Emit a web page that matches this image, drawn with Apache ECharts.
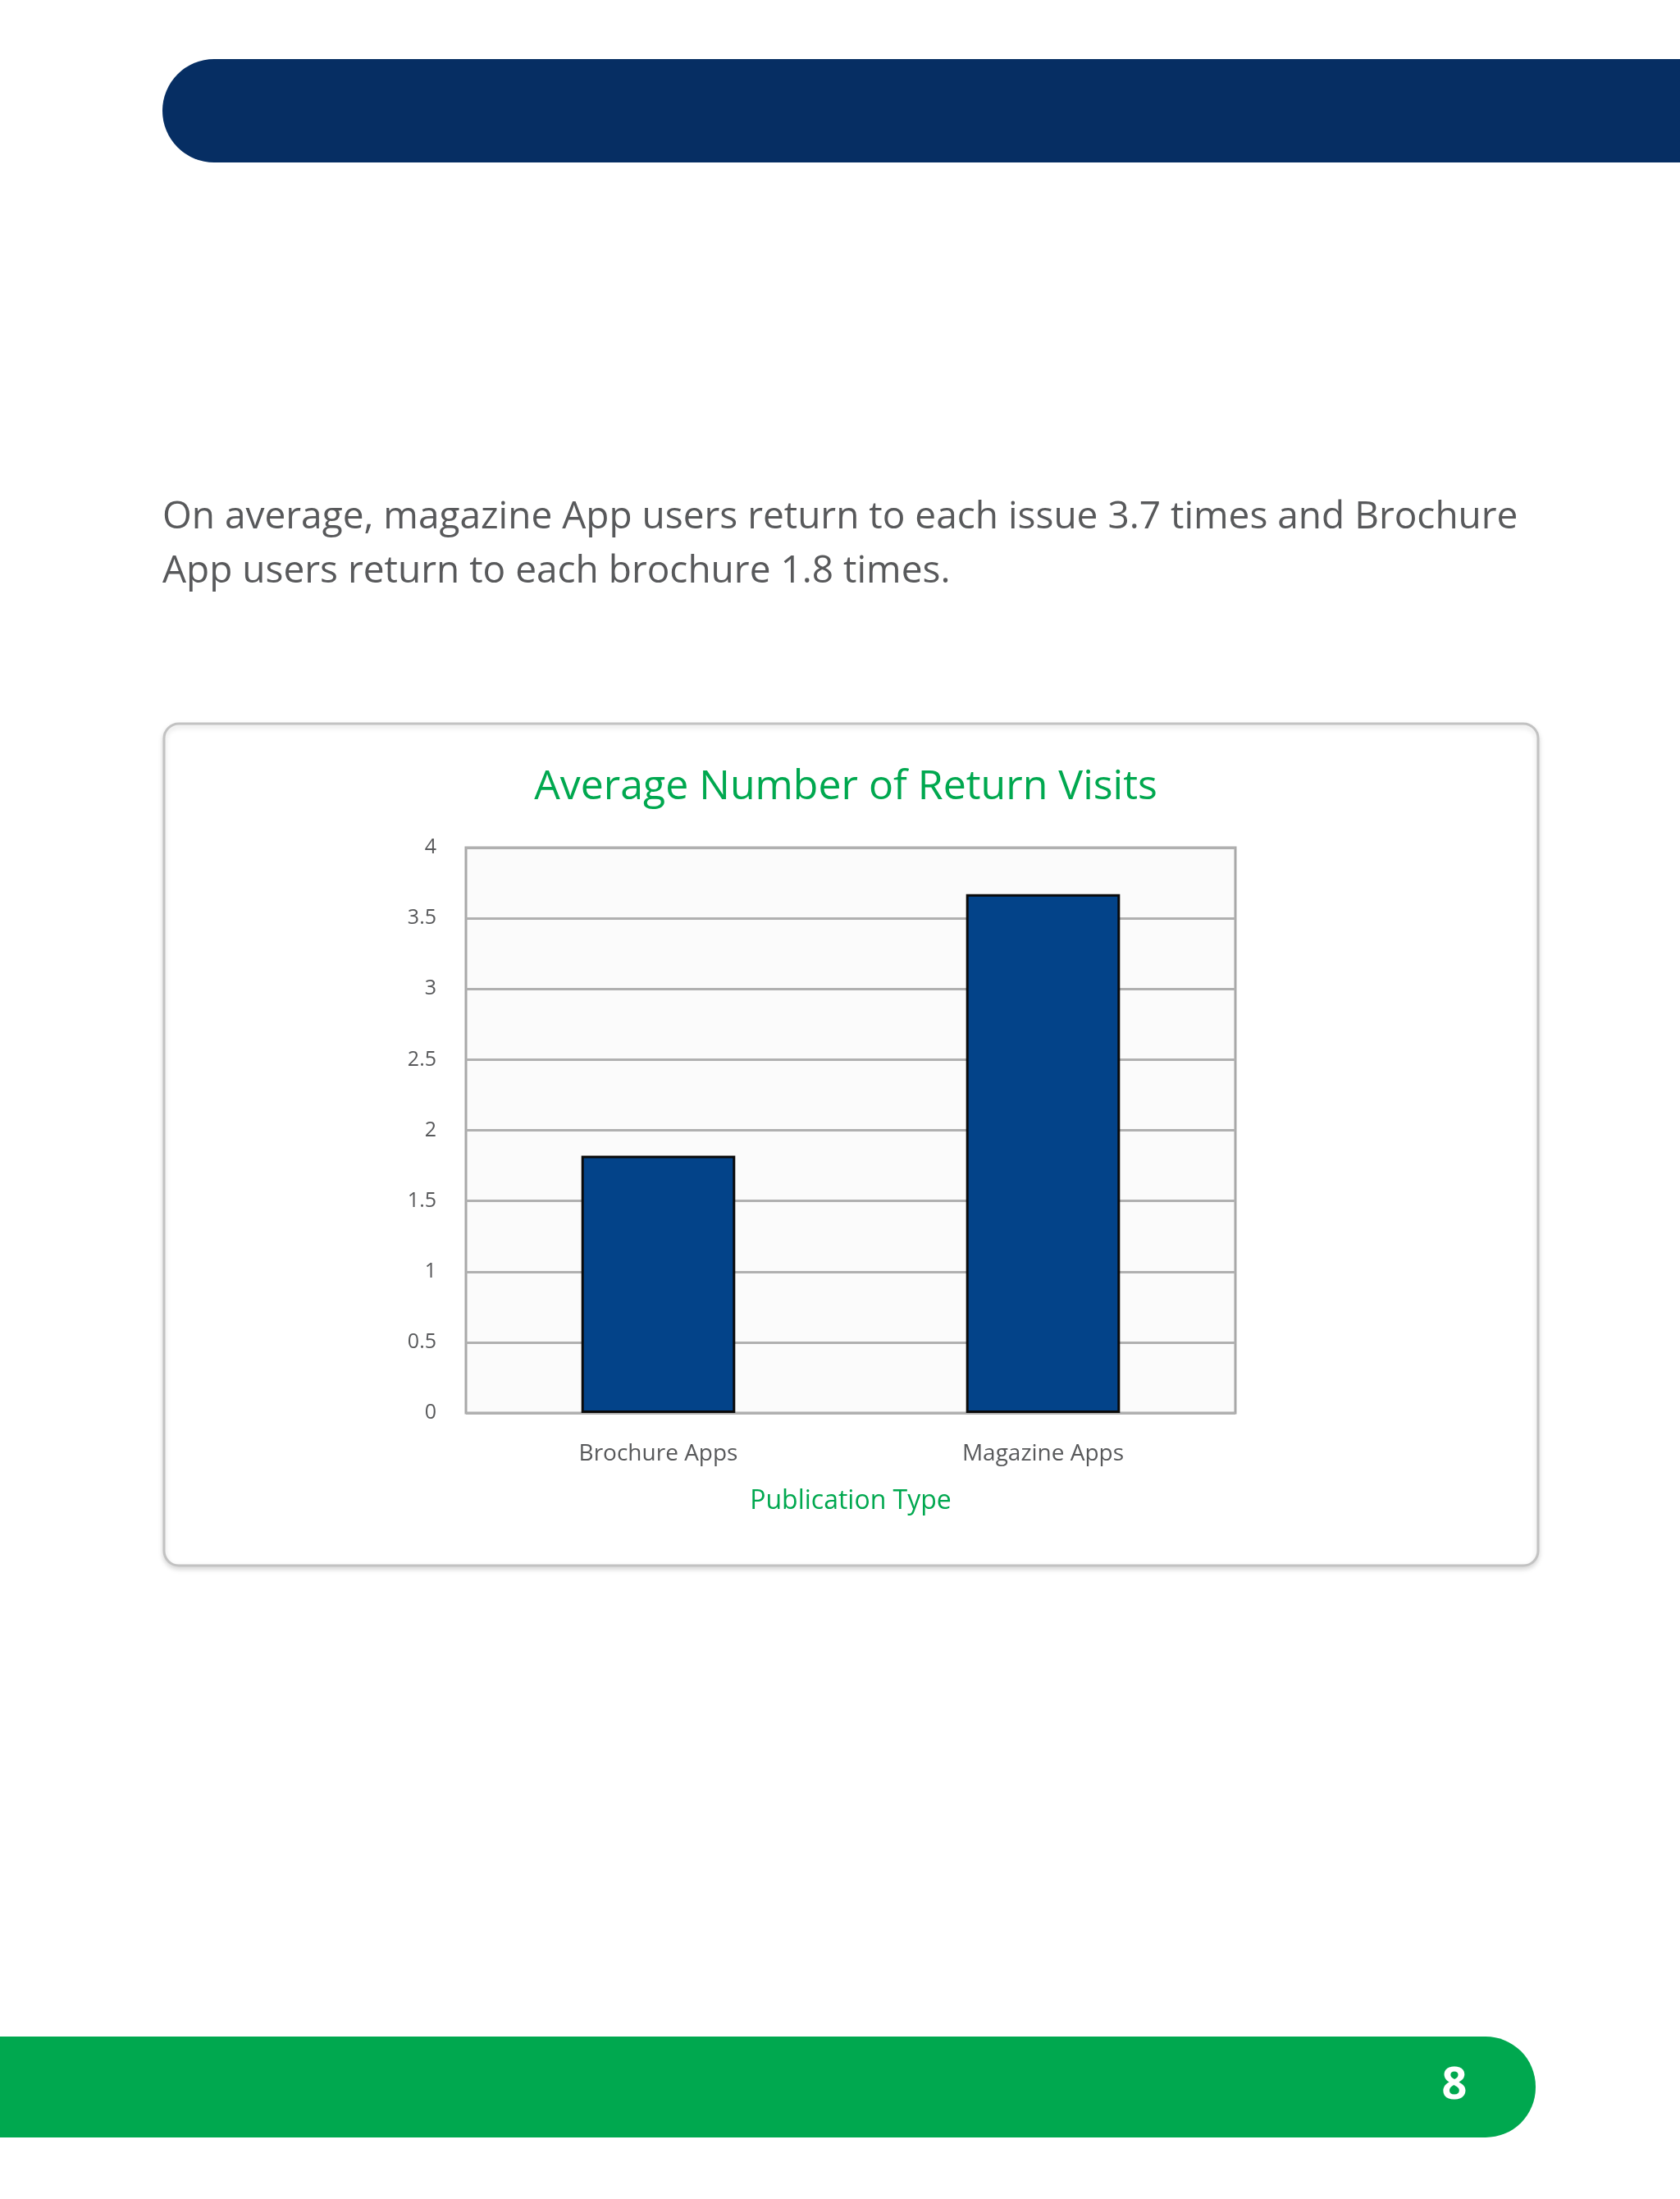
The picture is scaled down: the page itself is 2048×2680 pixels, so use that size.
<!DOCTYPE html>
<html><head><meta charset="utf-8">
<script src="https://cdn.jsdelivr.net/npm/echarts@6/dist/echarts.min.js"></script>
<style>html,body{margin:0;padding:0;background:#fff}#c{width:2048px;height:2680px}</style>
</head><body><div id="c"></div>
<script>
const categories = ["Brochure Apps", "Magazine Apps"];
const returnVisits = [1.82, 3.67];
const titleText = "Average Number of Return Visits";
const xAxisName = "Publication Type";
const paragraph = ["On average, magazine App users return to each issue 3.7 times and Brochure", "App users return to each brochure 1.8 times."];
const pageNumber = "8";

const chart = echarts.init(document.getElementById('c'));
const F = '"Open Sans", "Noto Sans", sans-serif';
chart.setOption({
  animation: false,
  textStyle: {fontFamily: F},
  graphic: [
    {type:'rect', shape:{x:198,y:72,width:1900,height:126,r:[63,0,0,63]}, style:{fill:'#062e63'}},
    {type:'text', x:198, y:598, style:{text:paragraph.join('\n'), fill:'#58595b', font:'46px '+F, lineHeight:66}},
    {type:'rect', z:-10, shape:{x:200,y:882,width:1675,height:1026,r:18}, style:{fill:'#fff',stroke:'#c2c2c2',lineWidth:3, shadowBlur:6, shadowColor:'rgba(0,0,0,0.15)', shadowOffsetY:3}},
    {type:'rect', shape:{x:-20,y:2482,width:1892,height:123,r:[0,61,61,0]}, style:{fill:'#00a84f'}},
    {type:'text', x:1773, y:2543, style:{text:pageNumber, fill:'#fff', font:'bold 54px '+F, align:'center', verticalAlign:'middle'}}
  ],
  title: {text: titleText, left: 1026, top: 930, textAlign:'center', textStyle:{color:'#00a84f', fontSize:50, fontWeight:'normal', fontFamily:F}},
  grid: {left:568, top:1033, width:938, height:689, show:true, backgroundColor:'#fbfbfb', borderColor:'#a8a8a8', borderWidth:3},
  xAxis: {type:'category', data:categories, name:xAxisName, nameLocation:'middle', nameGap:92,
    nameTextStyle:{color:'#00a84f', fontSize:32, fontFamily:F},
    axisLine:{show:false}, axisTick:{show:false},
    axisLabel:{color:'#58595b', fontSize:28, margin:36, fontFamily:F}},
  yAxis: {type:'value', min:0, max:4, interval:0.5,
    axisLine:{show:false}, axisTick:{show:false},
    axisLabel:{color:'#58595b', fontSize:25, margin:36, fontFamily:F},
    splitLine:{lineStyle:{color:'#b0b0b0', width:3}}},
  series: [{type:'bar', data:returnVisits, barWidth:'40%',
    itemStyle:{color:'#034389', borderColor:'#0a0a0a', borderWidth:3}}]
});
</script></body></html>
